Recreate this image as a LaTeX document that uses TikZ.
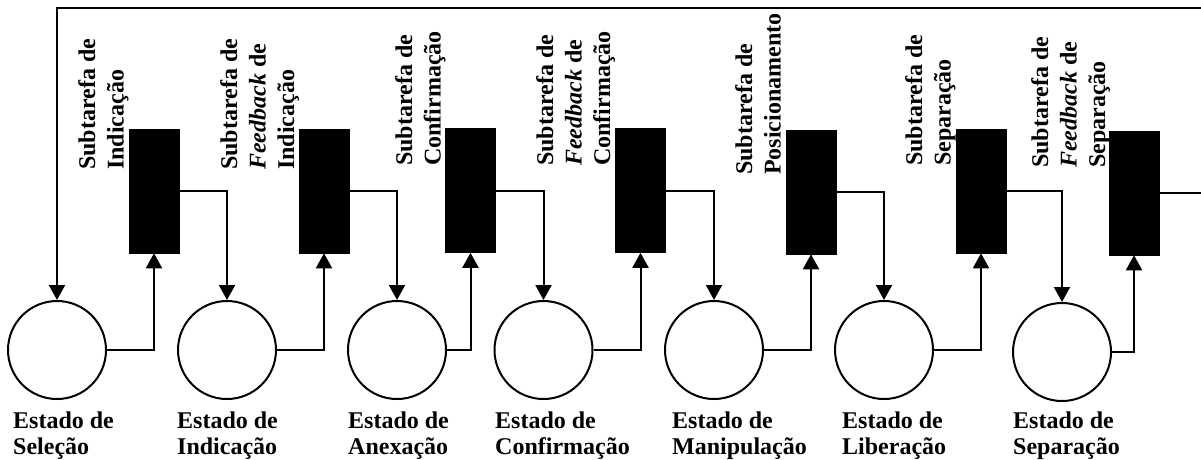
\documentclass[tikz,border=0pt]{standalone}
\usepackage{fontspec}
\setmainfont{Liberation Serif}
\usetikzlibrary{arrows.meta}
\begin{document}
\begin{tikzpicture}[x=1pt,y=-1pt,
  state/.style={circle,draw=black,line width=2pt,minimum size=98pt,inner sep=0pt},
  task/.style={rectangle,fill=black,draw=black,line width=0.5pt,minimum width=50pt,minimum height=124pt,inner sep=0pt},
  arr/.style={line width=2pt,-{Triangle[length=15pt,width=16pt]}},
  tlab/.style={rotate=90,anchor=north west,align=left,inner sep=0pt,font=\fontsize{24}{28.5}\selectfont\bfseries},
  blab/.style={anchor=north west,align=left,inner sep=0pt,font=\fontsize{24}{26}\selectfont\bfseries}]
\useasboundingbox (0,0) rectangle (1201,459);
% states
\node[state] (s1) at (57,350) {};
\node[state] (s2) at (227,350) {};
\node[state] (s3) at (397,350) {};
\node[state] (s4) at (543.5,350) {};
\node[state] (s5) at (714,350) {};
\node[state] (s6) at (884,350) {};
\node[state] (s7) at (1062,352) {};
% tasks
\node[task] (t1) at (154,191) {};
\node[task] (t2) at (324,191) {};
\node[task] (t3) at (470.5,190.5) {};
\node[task] (t4) at (640.5,190.5) {};
\node[task] (t5) at (811,192) {};
\node[task] (t6) at (981,191) {};
\node[task] (t7) at (1134,193) {};
% connectors
\draw[arr] (s1.east) -| (t1.south);
\draw[arr] (t1.east) -| (s2.north);
\draw[arr] (s2.east) -| (t2.south);
\draw[arr] (t2.east) -| (s3.north);
\draw[arr] (s3.east) -| (t3.south);
\draw[arr] (t3.east) -| (s4.north);
\draw[arr] (s4.east) -| (t4.south);
\draw[arr] (t4.east) -| (s5.north);
\draw[arr] (s5.east) -| (t5.south);
\draw[arr] (t5.east) -| (s6.north);
\draw[arr] (s6.east) -| (t6.south);
\draw[arr] (t6.east) -| (s7.north);
\draw[arr] (s7.east) -| (t7.south);
\coordinate (loopR) at (1203,8);
\draw[arr] (t7.east) -| (loopR) -| (s1.north);
% task labels
\node[tlab] (l1) at (78,170) {Subtarefa de\\Indicação};
\node[tlab] (l2) at (220,170) {Subtarefa de\\\textit{Feedback} de\\Indicação};
\node[tlab] (l3) at (395,166) {Subtarefa de\\Confirmação};
\node[tlab] (l4) at (536,166) {Subtarefa de\\\textit{Feedback} de\\Confirmação};
\node[tlab] (l5) at (735,175) {Subtarefa de\\Posicionamento};
\node[tlab] (l6) at (905,166) {Subtarefa de\\Separação};
\node[tlab] (l7) at (1031,168) {Subtarefa de\\\textit{Feedback} de\\Separação};
% state labels
\node[blab] (b1) at (13,412) {Estado de\\Seleção};
\node[blab] (b2) at (177,412) {Estado de\\Indicação};
\node[blab] (b3) at (348,412) {Estado de\\Anexação};
\node[blab] (b4) at (495,412) {Estado de\\Confirmação};
\node[blab] (b5) at (672,412) {Estado de\\Manipulação};
\node[blab] (b6) at (842,412) {Estado de\\Liberação};
\node[blab] (b7) at (1013,412) {Estado de\\Separação};
\end{tikzpicture}
\end{document}
